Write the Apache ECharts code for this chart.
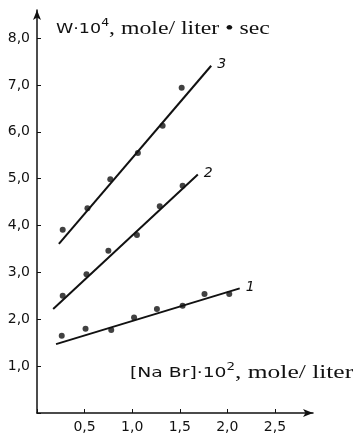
<!DOCTYPE html>
<html>
<head>
<meta charset="utf-8">
<script src="https://cdn.jsdelivr.net/npm/echarts@6/dist/echarts.min.js"></script>
<style>
  html, body { margin: 0; padding: 0; background: #fff; }
  #chart { width: 360px; height: 437px; }
</style>
</head>
<body>
<div id="chart"></div>
<script>
// [NaBr]·10^2, mole/liter  vs  W·10^4, mole/liter·sec
const nabr1 = [0.26, 0.51, 0.78, 1.02, 1.26, 1.53, 1.76, 2.02]
const rate1 = [1.65, 1.80, 1.77, 2.04, 2.22, 2.29, 2.54, 2.54]
const fitX1 = [0.2, 2.13]
const fitY1 = [1.47, 2.66]

const nabr2 = [0.27, 0.52, 0.75, 1.05, 1.29, 1.53]
const rate2 = [2.50, 2.96, 3.46, 3.80, 4.41, 4.85]
const fitX2 = [0.17, 1.69]
const fitY2 = [2.22, 5.09]

const nabr3 = [0.27, 0.53, 0.77, 1.06, 1.32, 1.52]
const rate3 = [3.91, 4.37, 4.99, 5.55, 6.13, 6.94]
const fitX3 = [0.23, 1.83]
const fitY3 = [3.61, 7.41]

const curveNames = ["1", "2", "3"]

const ink = "#111"
const comma = (v) => (v === 0 ? "" : v.toFixed(1).replace(".", ","))
const zip = (xs, ys) => xs.map((x, i) => [x, ys[i]])

const chart = echarts.init(document.getElementById("chart"))

const pointSeries = (xs, ys) => ({
  type: "scatter",
  data: zip(xs, ys),
  symbolSize: 6,
  itemStyle: { color: ink },
  silent: true,
})

const fitSeries = (xs, ys, name) => ({
  type: "line",
  data: zip(xs, ys),
  showSymbol: false,
  lineStyle: { color: ink, width: 2 },
  silent: true,
  endLabel: {
    show: true,
    formatter: name,
    fontStyle: "italic",
    fontFamily: "DejaVu Sans, sans-serif",
    fontSize: 14,
    color: ink,
    offset: [-2, -1],
  },
})

const titleRich = {
  s: { fontFamily: "DejaVu Sans, sans-serif", fontSize: 14, fill: ink },
  sup: { fontFamily: "DejaVu Sans, sans-serif", fontSize: 10, fill: ink, verticalAlign: "top", padding: [0, 0, 12, 0] },
  r: { fontFamily: "Liberation Serif, serif", fontSize: 19, fill: ink },
}

chart.setOption({
  animation: false,
  grid: { left: 37, right: 47, top: 10, bottom: 24 },
  xAxis: {
    type: "value",
    min: 0,
    max: 2.9,
    interval: 0.5,
    axisLine: {
      lineStyle: { color: ink, width: 1.5 },
      symbol: ["none", "arrow"],
      symbolSize: [6, 10],
    },
    axisTick: { inside: true, length: 4, lineStyle: { color: ink } },
    axisLabel: {
      formatter: comma,
      color: ink,
      fontSize: 14,
      fontFamily: "DejaVu Sans, sans-serif",
      margin: 7,
      showMaxLabel: false,
    },
    splitLine: { show: false },
  },
  yAxis: {
    type: "value",
    min: 0,
    max: 8.6,
    interval: 1,
    axisLine: {
      lineStyle: { color: ink, width: 1.5 },
      symbol: ["none", "arrow"],
      symbolSize: [6, 10],
    },
    axisTick: { inside: true, length: 4, lineStyle: { color: ink } },
    axisLabel: {
      formatter: comma,
      color: ink,
      fontSize: 14,
      fontFamily: "DejaVu Sans, sans-serif",
      margin: 7,
      showMaxLabel: false,
    },
    splitLine: { show: false },
  },
  graphic: [
    {
      type: "text",
      x: 56,
      y: 18,
      scaleX: 1.25,
      style: {
        text: "{s|W·10}{sup|4}{r|, mole/ liter • sec}",
        rich: titleRich,
      },
    },
    {
      type: "text",
      x: 130,
      y: 362,
      scaleX: 1.34,
      style: {
        text: "{s|[Na Br]·10}{sup|2}{r|, mole/ liter}",
        rich: titleRich,
      },
    },
  ],
  series: [
    pointSeries(nabr1, rate1),
    pointSeries(nabr2, rate2),
    pointSeries(nabr3, rate3),
    fitSeries(fitX1, fitY1, curveNames[0]),
    fitSeries(fitX2, fitY2, curveNames[1]),
    fitSeries(fitX3, fitY3, curveNames[2]),
  ],
})
</script>
</body>
</html>
